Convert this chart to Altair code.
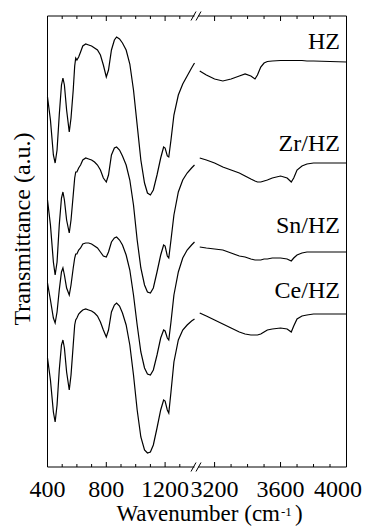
import altair as alt
import pandas as pd

# wavenumber grids (cm-1) for the two panels of the broken axis
WN_LEFT = [400, 420, 440, 452, 465, 480, 495, 505, 515, 530, 548, 560, 575, 585, 592, 600,
           612, 625, 640, 660, 680, 700, 720, 740, 760, 780, 800, 815, 835, 855, 870, 890,
           910, 935, 960, 985, 1010, 1035, 1060, 1080, 1100, 1120, 1145, 1170, 1190, 1200,
           1215, 1225, 1240, 1260, 1290, 1320, 1350, 1380, 1400]
WN_RIGHT = [3110, 3150, 3200, 3250, 3300, 3350, 3385, 3420, 3445, 3460, 3480, 3500, 3520,
            3550, 3600, 3640, 3665, 3680, 3700, 3730, 3760, 3800, 3900, 4000]

# offset transmittance readings (a.u., depth below the top of the frame)
HZ_LEFT = [97, 120, 155, 163, 150, 115, 85, 78, 85, 110, 132, 118, 90, 66, 58, 60, 57, 52, 46,
           44, 45, 46, 48, 50, 55, 65, 77, 70, 50, 40, 37, 39, 43, 50, 64, 90, 125, 160, 183,
           193, 195, 190, 175, 158, 147, 148, 156, 157, 140, 115, 95, 84, 76, 68, 63]
ZR_LEFT = [200, 225, 262, 275, 262, 225, 198, 192, 200, 220, 233, 220, 195, 178, 172, 172, 168,
           165, 160, 158, 159, 160, 162, 165, 170, 178, 182, 175, 155, 148, 147, 150, 156, 165,
           180, 205, 240, 268, 285, 292, 293, 288, 272, 255, 245, 246, 256, 258, 240, 215, 192,
           180, 173, 168, 165]
SN_LEFT = [283, 300, 318, 323, 312, 290, 272, 268, 275, 288, 295, 285, 268, 258, 254, 254, 250,
           248, 244, 243, 243, 244, 246, 248, 252, 256, 257, 252, 242, 238, 237, 240, 245, 255,
           270, 295, 325, 352, 368, 374, 375, 370, 355, 338, 330, 331, 338, 340, 322, 295, 272,
           258, 250, 245, 242]
CE_LEFT = [358, 380, 412, 422, 405, 370, 345, 340, 348, 372, 390, 375, 345, 325, 320, 318, 314,
           312, 310, 309, 310, 311, 313, 316, 322, 330, 337, 330, 312, 305, 303, 306, 313, 325,
           345, 375, 410, 437, 450, 453, 452, 445, 428, 410, 400, 401, 410, 413, 392, 362, 340,
           330, 325, 321, 319]

HZ_RIGHT = [71, 75, 79, 81, 79, 76, 74, 76, 79, 75, 67, 63, 61.5, 61, 60.5, 60.5, 60.5, 60.5,
            60.5, 60.5, 61, 61, 61.5, 62]
ZR_RIGHT = [158, 160, 163, 167, 170, 173, 176, 179, 181, 182, 182, 181, 180, 178, 176, 178, 182,
            178, 170, 166, 164, 163, 163, 163]
SN_RIGHT = [247, 248, 249, 250, 253, 256, 257, 259, 260, 260, 260, 259, 259, 258, 258, 259, 261,
            258, 255, 253, 252, 252, 252, 252]
CE_RIGHT = [313, 316, 320, 324, 328, 332, 334, 335, 335, 335, 334, 332, 330, 329, 328, 329, 332,
            326, 319, 316, 315, 314, 314, 314]

SAMPLES = ["HZ", "Zr/HZ", "Sn/HZ", "Ce/HZ"]
LEFT_VALUES = [HZ_LEFT, ZR_LEFT, SN_LEFT, CE_LEFT]
RIGHT_VALUES = [HZ_RIGHT, ZR_RIGHT, SN_RIGHT, CE_RIGHT]
LABEL_DEPTH = [49, 151, 233, 298]
LABEL_WN = 3960

MAJOR_TICKS = [400, 800, 1200, 3200, 3600, 4000]
MINOR_TICKS = [500, 600, 700, 900, 1000, 1100, 1300, 3300, 3400, 3500, 3700, 3800, 3900]
SEGMENTS = [(400, 1400), (3100, 4000)]

W, H = 299, 451
TOP = 16  # depth readings are measured from the page top; frame top is at 16
FONT = "Liberation Serif"

rows = []
for name, lv, rv in zip(SAMPLES, LEFT_VALUES, RIGHT_VALUES):
    for wn, d in zip(WN_LEFT, lv):
        rows.append({"wn": wn, "t": H + TOP - d, "key": name + "-L"})
    for wn, d in zip(WN_RIGHT, rv):
        rows.append({"wn": wn, "t": H + TOP - d, "key": name + "-R"})
df = pd.DataFrame(rows)

xs = alt.Scale(domain=[400, 1400, 3100, 4000], range=[0, 147, 150.6, W])
ys = alt.Scale(domain=[0, H])


def X(field):
    return alt.X(field, scale=xs, axis=None)


lines = alt.Chart(df).mark_line(color="black", strokeWidth=1.2).encode(
    x=X("wn:Q"),
    y=alt.Y("t:Q", scale=ys, axis=None),
    detail="key:N",
)

seg_df = pd.DataFrame({"a": [s[0] for s in SEGMENTS], "b": [s[1] for s in SEGMENTS]})
frame_top = alt.Chart(seg_df).mark_rule(color="black", strokeWidth=1).encode(
    x=X("a:Q"), x2="b:Q", y=alt.value(0))
frame_bot = alt.Chart(seg_df).mark_rule(color="black", strokeWidth=1).encode(
    x=X("a:Q"), x2="b:Q", y=alt.value(H))
side_df = pd.DataFrame({"a": [400, 4000]})
frame_side = alt.Chart(side_df).mark_rule(color="black", strokeWidth=1).encode(
    x=X("a:Q"), y=alt.value(0), y2=alt.value(H))

maj_df = pd.DataFrame({"a": MAJOR_TICKS})
min_df = pd.DataFrame({"a": MINOR_TICKS})
tick_layers = []
for d, ln in [(maj_df, 5), (min_df, 3)]:
    tick_layers.append(alt.Chart(d).mark_rule(color="black", strokeWidth=1).encode(
        x=X("a:Q"), y=alt.value(H), y2=alt.value(H - ln)))
    tick_layers.append(alt.Chart(d).mark_rule(color="black", strokeWidth=1).encode(
        x=X("a:Q"), y=alt.value(0), y2=alt.value(ln)))

# tick labels (last one nudged so it stays inside the page)
tl_df = pd.DataFrame({"a": MAJOR_TICKS[:-1], "s": [str(v) for v in MAJOR_TICKS[:-1]]})
tick_labels = alt.Chart(tl_df).mark_text(
    align="center", baseline="alphabetic", fontSize=24, font=FONT, color="black"
).encode(x=X("a:Q"), y=alt.value(H + 30), text="s:N")
tl_last = pd.DataFrame({"a": MAJOR_TICKS[-1:], "s": [str(v) for v in MAJOR_TICKS[-1:]]})
tick_label_last = alt.Chart(tl_last).mark_text(
    align="center", baseline="alphabetic", fontSize=24, font=FONT, color="black", dx=-8.5
).encode(x=X("a:Q"), y=alt.value(H + 30), text="s:N")

# break marks "//" on top and bottom edges
slashes = []
for yc in [0, H]:
    for x0 in [143.5, 148.5]:
        slashes.append(alt.Chart(pd.DataFrame({"k": [0]})).mark_rule(color="black", strokeWidth=1).encode(
            x=alt.value(x0), x2=alt.value(x0 + 5), y=alt.value(yc + 4.5), y2=alt.value(yc - 4.5)))

lab_df = pd.DataFrame({"wn": [LABEL_WN] * 4, "t": [H + TOP - d for d in LABEL_DEPTH], "label": SAMPLES})
labels = alt.Chart(lab_df).mark_text(align="right", baseline="alphabetic", fontSize=24,
                                     font=FONT, color="black").encode(
    x=X("wn:Q"), y=alt.Y("t:Q", scale=ys, axis=None), text="label:N")

ytitle = alt.Chart(pd.DataFrame({"s": ["Transmittance (a.u.)"]})).mark_text(
    angle=270, align="center", baseline="alphabetic", fontSize=24, font=FONT, color="black"
).encode(x=alt.value(-17.5), y=alt.value(213), text="s:N")

xt1 = alt.Chart(pd.DataFrame({"s": ["Wavenumber (cm"]})).mark_text(
    align="right", baseline="alphabetic", fontSize=23, font=FONT, color="black"
).encode(x=alt.value(232.5), y=alt.value(505), text="s:N")
xt2 = alt.Chart(pd.DataFrame({"s": ["-1"]})).mark_text(
    align="left", baseline="alphabetic", fontSize=13, font=FONT, color="black"
).encode(x=alt.value(233.5), y=alt.value(500), text="s:N")
xt3 = alt.Chart(pd.DataFrame({"s": [")"]})).mark_text(
    align="left", baseline="alphabetic", fontSize=23, font=FONT, color="black"
).encode(x=alt.value(247.5), y=alt.value(505), text="s:N")

chart = alt.layer(lines, frame_top, frame_bot, frame_side, *tick_layers, tick_labels,
                  tick_label_last, *slashes, labels, ytitle, xt1, xt2, xt3).properties(
    width=W, height=H,
    autosize=alt.AutoSizeParams(type="none"),
    padding={"left": 39.5, "top": 8, "right": 16, "bottom": 60},
).configure_view(stroke=None)

chart.save("out.html", embed_options={"renderer": "svg", "actions": False})
